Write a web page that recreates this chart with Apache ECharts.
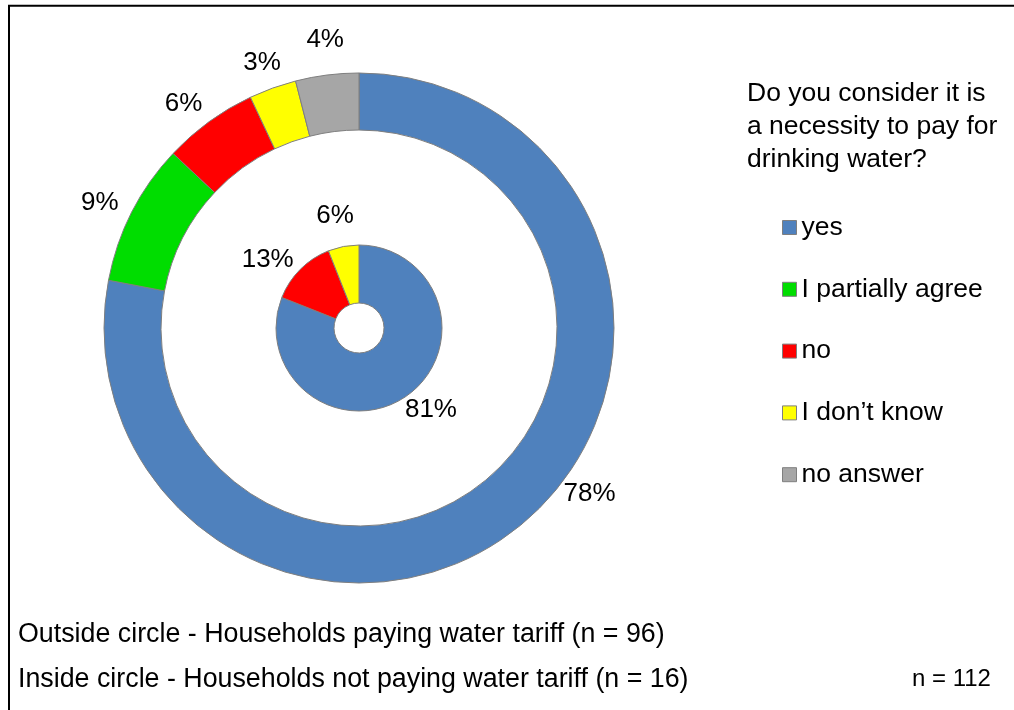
<!DOCTYPE html>
<html>
<head>
<meta charset="utf-8">
<script src="https://cdn.jsdelivr.net/npm/echarts@6/dist/echarts.min.js"></script>
<style>
  html, body { margin: 0; padding: 0; background: #fff; }
  #chart { width: 1014px; height: 710px; }
</style>
</head>
<body>
<div id="chart"></div>
<script>
// Answer categories (legend order)
const categories = ['yes', 'I partially agree', 'no', 'I don\u2019t know', 'no answer'];

// Outer ring: households paying water tariff (percent)
const outerNames = ['yes', 'I partially agree', 'no', 'I don\u2019t know', 'no answer'];
const outerValues = [78, 9, 6, 3, 4];

// Inner ring: households not paying water tariff (percent)
const innerNames = ['yes', 'no', 'I don\u2019t know'];
const innerValues = [81, 13, 6];

const questionText = 'Do you consider it is\na necessity to pay for\ndrinking water?';
const outerNote = 'Outside circle - Households paying water tariff (n = 96)';
const innerNote = 'Inside circle - Households not paying water tariff (n = 16)';
const totalNote = 'n = 112';

const palette = {
  'yes': '#4F81BD',
  'I partially agree': '#00DD00',
  'no': '#FF0000',
  'I don\u2019t know': '#FFFF00',
  'no answer': '#A6A6A6'
};

const FONT = '"Liberation Sans", Arial, sans-serif';
const CENTER = [359, 328];
const OUTER_R = [198, 255];
const INNER_R = [25, 83];

// Best-fit label placement: angular nudge (deg) from the slice's mid angle
// and distance from the centre, per slice.
const outerLabelFit = { nudge: [-14.7, -1.2, -2, -0.3, 0.5], dist: [284, 288, 285, 282, 290] };
const innerLabelFit = { nudge: [-7.1, -8.2, -1.2], dist: [109, 114, 115] };

function ringLabelLayout(values, fit) {
  const total = values.reduce((a, b) => a + b, 0);
  return function (params) {
    const i = params.dataIndex;
    let before = 0;
    for (let k = 0; k < i; k++) before += values[k];
    const mid = (before + values[i] / 2) / total * 360 + fit.nudge[i];
    const rad = mid * Math.PI / 180;
    return {
      x: CENTER[0] + Math.sin(rad) * fit.dist[i],
      y: CENTER[1] - Math.cos(rad) * fit.dist[i],
      align: 'center',
      verticalAlign: 'middle'
    };
  };
}

function toData(names, values) {
  return names.map((n, i) => ({
    name: n,
    value: values[i],
    itemStyle: { color: palette[n] }
  }));
}

const labelStyle = {
  show: true,
  position: 'outside',
  formatter: '{c}%',
  fontFamily: FONT,
  fontSize: 26,
  color: '#000'
};

function textStyle(size, lh) {
  return { fontFamily: FONT, fontSize: size, fontWeight: 'normal', color: '#000', lineHeight: lh };
}

const chart = echarts.init(document.getElementById('chart'), null, { renderer: 'canvas' });

chart.setOption({
  backgroundColor: '#fff',
  animation: false,
  title: [
    { text: questionText, left: 747, top: 77, padding: 0, textStyle: textStyle(26.5, 33) },
    { text: outerNote, left: 18, top: 621, padding: 0, textStyle: textStyle(26.8, 27) },
    { text: innerNote, left: 18, top: 666, padding: 0, textStyle: textStyle(26.8, 27) },
    { text: totalNote, left: 912, top: 667, padding: 0, textStyle: textStyle(24, 24) }
  ],
  legend: {
    data: categories,
    orient: 'vertical',
    left: 782,
    top: 214,
    padding: 0,
    itemWidth: 14,
    itemHeight: 14,
    itemGap: 34.8,
    icon: 'rect',
    selectedMode: false,
    itemStyle: { borderColor: '#7F7F7F', borderWidth: 1 },
    textStyle: { fontFamily: FONT, fontSize: 26.5, color: '#000', lineHeight: 26 }
  },
  graphic: [
    {
      type: 'rect',
      shape: { x: 9, y: 5.7, width: 1100, height: 800 },
      style: { fill: 'none', stroke: '#000', lineWidth: 2 },
      silent: true
    }
  ],
  series: [
    {
      name: 'Outside circle',
      type: 'pie',
      center: CENTER,
      radius: OUTER_R,
      startAngle: 90,
      clockwise: true,
      avoidLabelOverlap: false,
      emphasis: { scale: false },
      itemStyle: { borderColor: '#7F7F7F', borderWidth: 1 },
      label: labelStyle,
      labelLine: { show: false },
      labelLayout: ringLabelLayout(outerValues, outerLabelFit),
      data: toData(outerNames, outerValues)
    },
    {
      name: 'Inside circle',
      type: 'pie',
      center: CENTER,
      radius: INNER_R,
      startAngle: 90,
      clockwise: true,
      avoidLabelOverlap: false,
      emphasis: { scale: false },
      itemStyle: { borderColor: '#7F7F7F', borderWidth: 1 },
      label: labelStyle,
      labelLine: { show: false },
      labelLayout: ringLabelLayout(innerValues, innerLabelFit),
      data: toData(innerNames, innerValues)
    }
  ]
});
</script>
</body>
</html>
